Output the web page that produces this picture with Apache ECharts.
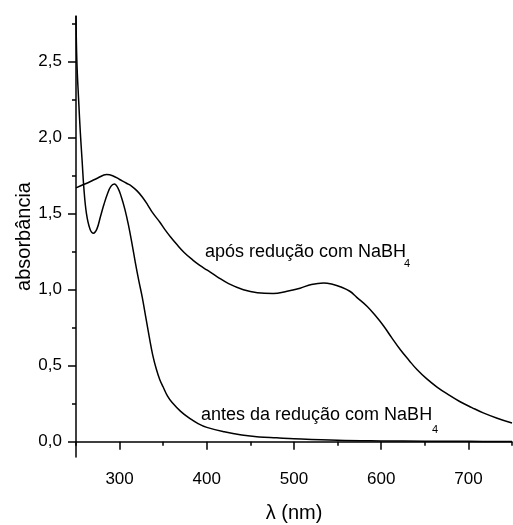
<!DOCTYPE html>
<html><head><meta charset="utf-8">
<script src="https://cdn.jsdelivr.net/npm/echarts@6/dist/echarts.min.js"></script>
<style>html,body{margin:0;padding:0;background:#fff}#c{width:513px;height:525px}</style>
</head><body><div id="c"></div>
<script>
// wavelength (nm) / absorbance, curve "antes da redução"
const wlAntes = [250,251,253,255,257,259,262,266,270,274,278,282,286,290,294,298,302,306,310,314,318,322,326,330,334,338,342,346,350,355,360,370,380,390,400,420,440,460,480,500,550,600,650,700,750];
const absAntes = [2.80,2.50,2.25,2.03,1.85,1.67,1.50,1.40,1.372,1.40,1.48,1.56,1.63,1.68,1.695,1.67,1.61,1.53,1.43,1.31,1.18,1.06,0.95,0.82,0.69,0.57,0.48,0.41,0.36,0.30,0.26,0.20,0.155,0.12,0.095,0.066,0.045,0.032,0.026,0.02,0.01,0.006,0.004,0.003,0.002];
// curve "após redução"
const wlApos = [250,258,266,275,285,292,300,308,314,320,326,332,338,346,352,358,366,374,384,392,400,412,425,442,458,476,492,507,520,534,545,553,564,572,584,594,603,612,622,632,641,652,664,677,690,704,717,733,750];
const absApos = [1.67,1.69,1.71,1.735,1.757,1.75,1.725,1.70,1.68,1.65,1.61,1.56,1.505,1.445,1.395,1.35,1.295,1.245,1.195,1.16,1.13,1.085,1.04,1.00,0.98,0.975,0.99,1.01,1.035,1.045,1.035,1.02,0.99,0.95,0.89,0.825,0.76,0.685,0.605,0.535,0.475,0.415,0.36,0.31,0.265,0.225,0.19,0.155,0.123];
const xMajor = [300,400,500,600,700];
const xMinor = [250,350,450,550,650,750];
const yMajor = [0,0.5,1.0,1.5,2.0,2.5];
const yMinor = [0.25,0.75,1.25,1.75,2.25,2.75];
const labelApos = 'após redução com NaBH';
const labelAntes = 'antes da redução com NaBH';
const subscript = '4';

const FONT = '"Liberation Sans", Arial, sans-serif';
const chart = echarts.init(document.getElementById('c'), null, {renderer:'canvas'});
const zip = (a,b)=>a.map((v,i)=>[v,b[i]]);
const axLine = {show:true, lineStyle:{color:'#000', width:1.5}};
const xBase = {type:'value', min:250, max:750, splitLine:{show:false}};
const yBase = {type:'value', min:-0.1, max:2.8, splitLine:{show:false}};
chart.setOption({
  backgroundColor:'#fff',
  animation:false,
  grid:{left:76, right:1, top:16, bottom:68, containLabel:false, outerBoundsMode:'none'},
  xAxis:[
    Object.assign({}, xBase, {
      axisLine:axLine,
      axisTick:{show:true, customValues:xMajor, length:8, lineStyle:{color:'#000', width:1.5}},
      axisLabel:{customValues:xMajor, color:'#000', fontSize:17, fontFamily:FONT, margin:14},
      name:'λ (nm)', nameLocation:'middle', nameGap:46, nameMoveOverlap:false,
      nameTextStyle:{color:'#000', fontSize:20, fontFamily:FONT}
    }),
    Object.assign({}, xBase, {
      position:'bottom', axisLine:{show:false},
      axisTick:{show:true, customValues:xMinor, length:4, lineStyle:{color:'#000', width:1.5}},
      axisLabel:{show:false}
    })
  ],
  yAxis:[
    Object.assign({}, yBase, {
      axisLine:axLine,
      axisTick:{show:true, customValues:yMajor, length:8, lineStyle:{color:'#000', width:1.5}},
      axisLabel:{customValues:yMajor, color:'#000', fontSize:17, fontFamily:FONT, margin:14,
        formatter:v=>v.toFixed(1).replace('.',',')},
      name:'absorbância', nameLocation:'middle', nameGap:42, nameMoveOverlap:false,
      nameTextStyle:{color:'#000', fontSize:20, fontFamily:FONT}
    }),
    Object.assign({}, yBase, {
      position:'left', axisLine:{show:false},
      axisTick:{show:true, customValues:yMinor, length:4, lineStyle:{color:'#000', width:1.5}},
      axisLabel:{show:false}
    })
  ],
  series:[
    {type:'line', data:zip(wlAntes,absAntes), smooth:0.4, showSymbol:false, clip:true,
     lineStyle:{color:'#000', width:1.5}},
    {type:'line', data:zip(wlApos,absApos), smooth:0.4, showSymbol:false, clip:true,
     lineStyle:{color:'#000', width:1.5}}
  ],
  graphic:[
    {type:'text', x:205, y:252, style:{text:labelApos, font:'18px '+FONT, fill:'#000', textVerticalAlign:'middle'}},
    {type:'text', x:404, y:264, style:{text:subscript, font:'11px '+FONT, fill:'#000', textVerticalAlign:'middle'}},
    {type:'text', x:201, y:415, style:{text:labelAntes, font:'18px '+FONT, fill:'#000', textVerticalAlign:'middle'}},
    {type:'text', x:432, y:430, style:{text:subscript, font:'11px '+FONT, fill:'#000', textVerticalAlign:'middle'}}
  ]
});
</script></body></html>
